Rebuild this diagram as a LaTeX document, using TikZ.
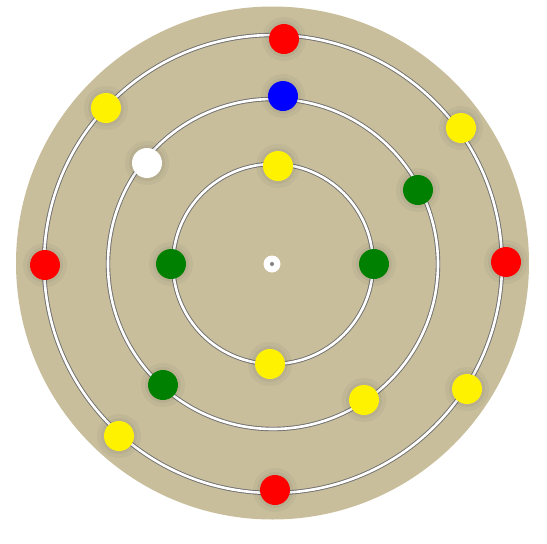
\documentclass[tikz,border=0pt]{standalone}
\usetikzlibrary{positioning}
\definecolor{board}{RGB}{200,190,156}
\definecolor{ringedge}{RGB}{110,110,110}
\tikzstyle{ringline}=[draw=ringedge,line width=4.4pt]
\tikzstyle{ringcore}=[draw=white,line width=2.6pt]
\tikzstyle{ball}=[circle,minimum size=30pt,inner sep=0pt]
\tikzstyle{halo}=[circle,minimum size=44pt,inner sep=0pt,fill=black,fill opacity=0.035]
\tikzstyle{halo2}=[circle,minimum size=36pt,inner sep=0pt,fill=black,fill opacity=0.04]
\tikzstyle{redball}=[ball,fill=red]
\tikzstyle{yelball}=[ball,fill=yellow]
\tikzstyle{grnball}=[ball,fill=green!50!black]
\tikzstyle{bluball}=[ball,fill=blue]
\tikzstyle{whtball}=[ball,fill=white]

\begin{document}
\begin{tikzpicture}[x=1pt,y=-1pt]
\useasboundingbox (0,0) rectangle (547,544);
% board and rings
\fill[board] (272.5,263) circle (256.5);
\coordinate (hub) at (273,264);
\draw[ringline] (hub) circle (100);
\draw[ringcore] (hub) circle (100);
\draw[ringline] (hub) circle (165);
\draw[ringcore] (hub) circle (165);
\draw[ringline] (hub) circle (229);
\draw[ringcore] (hub) circle (229);
\node[circle,fill=white,minimum size=17pt,inner sep=0pt] (axle) at (272,264) {};
\node[circle,fill=gray,minimum size=4pt,inner sep=0pt] (pin) at (axle) {};
% soft shadows
\foreach \p in {(284,39),(283,96),(106,108),(461,128),(147,163),(278,166),(418,190),
  (45,265),(171,264),(374,264),(506,262),(270,364),(163,385),(364,400),(467,389),
  (119,436),(275,490)}
  {\node[halo] at \p {};
   \node[halo2] at \p {};}
% outer ring
\node[redball] (rtop) at (284,39) {};
\node[redball] (rleft) at (45,265) {};
\node[redball] (rright) at (506,262) {};
\node[redball] (rbot) at (275,490) {};
\node[yelball] (ynw) at (106,108) {};
\node[yelball] (yne) at (461,128) {};
\node[yelball] (yse) at (467,389) {};
\node[yelball] (ysw) at (119,436) {};
% middle ring
\node[bluball] (btop) at (283,96) {};
\node[whtball] (wnw) at (147,163) {};
\node[grnball] (gne) at (418,190) {};
\node[grnball] (gsw) at (163,385) {};
\node[yelball] (ymid) at (364,400) {};
% inner ring
\node[yelball] (yin1) at (278,166) {};
\node[grnball] (gin1) at (171,264) {};
\node[grnball] (gin2) at (374,264) {};
\node[yelball] (yin2) at (270,364) {};
\end{tikzpicture}
\end{document}
